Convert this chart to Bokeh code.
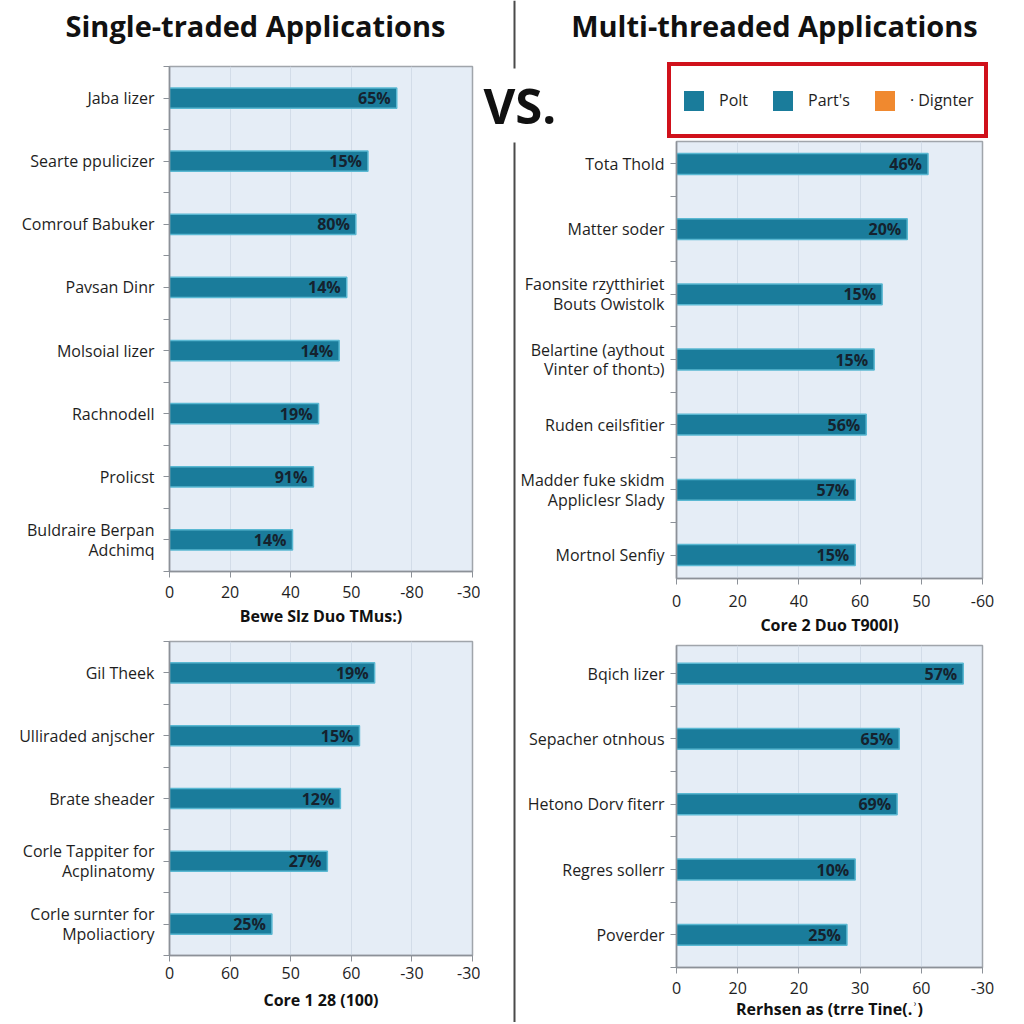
from bokeh.plotting import figure
from bokeh.layouts import column, row
from bokeh.models import ColumnDataSource, Range1d, FixedTicker, Legend, LegendItem
from bokeh.core.properties import value
from bokeh.embed import file_html
from bokeh.resources import INLINE

# ---------------- data ----------------
titles = ["Single-traded Applications", "Multi-threaded Applications"]
vs_text = ["VS."]

tl_labels = ["Jaba lizer", "Searte ppulicizer", "Comrouf Babuker", "Pavsan Dinr",
             "Molsoial lizer", "Rachnodell", "Prolicst", "Buldraire Berpan\nAdchimq"]
tl_values = [75, 65.5, 61.5, 58.5, 56, 49.2, 47.5, 40.6]
tl_pct = ["65%", "15%", "80%", "14%", "14%", "19%", "91%", "14%"]
tl_xticks = ["0", "20", "40", "50", "-80", "-30"]
tl_xtitle = "Bewe Slz Duo TMus:)"

tr_labels = ["Tota Thold", "Matter soder", "Faonsite rzytthiriet\nBouts Owistolk",
             "Belartine (aythout\nVinter of thont\u0254)", "Ruden ceilsfitier",
             "Madder fuke skidm\nApplicIesr Slady", "Mortnol Senfiy"]
tr_values = [82.2, 75.4, 67.2, 64.6, 62, 58.4, 58.4]
tr_pct = ["46%", "20%", "15%", "15%", "56%", "57%", "15%"]
tr_xticks = ["0", "20", "40", "60", "50", "-60"]
tr_xtitle = "Core 2 Duo T900I)"

bl_labels = ["Gil Theek", "Ulliraded anjscher", "Brate sheader",
             "Corle Tappiter for\nAcplinatomy", "Corle surnter for\nMpoliactiory"]
bl_values = [67.7, 62.7, 56.4, 52.1, 33.8]
bl_pct = ["19%", "15%", "12%", "27%", "25%"]
bl_xticks = ["0", "60", "50", "60", "-30", "-30"]
bl_xtitle = "Core 1 28 (100)"

br_labels = ["Bqich lizer", "Sepacher otnhous", "Hetono Dorv fiterr", "Regres sollerr", "Poverder"]
br_values = [93.7, 72.8, 72.1, 58.4, 55.7]
br_pct = ["57%", "65%", "69%", "10%", "25%"]
br_xticks = ["0", "20", "20", "30", "60", "-30"]
br_xtitle = "Rerhsen as (trre Tine(.\u02be)"

legend_labels = ["Polt", "Part's", "\u00b7 Dignter"]
legend_colors = ["#1a7c9b", "#1a7c9b", "#f0892f"]

x_tick_pos = [0, 20, 40, 60, 80, 100]

# ---------------- style ----------------
FONT = "Open Sans"
BAR = "#1a7c9b"
BAR_EDGE = "#5ab8d2"
BG = "#e5edf6"
GRID = "#d2dce8"
AXIS = "#8c9198"
TXT = "#1e1e1e"
DIV = "#4a4a4a"


def blank(width, height):
    p = figure(width=width, height=height, x_range=Range1d(0, width), y_range=Range1d(0, height),
               output_backend="svg", toolbar_location=None, min_border=0,
               x_axis_location=None, y_axis_location=None)
    p.grid.visible = False
    p.outline_line_color = None
    p.background_fill_color = "white"
    p.border_fill_color = "white"
    return p


def panel(labels, values, pct, xticks, xtitle, width, height, mb, y_top, y_bottom,
          lab_standoff, title_standoff, y_standoff):
    n = len(labels)
    p = figure(width=width, height=height, x_range=Range1d(0, 100),
               y_range=Range1d(start=y_bottom, end=y_top),
               output_backend="svg", toolbar_location=None,
               min_border_left=mb[0], min_border_right=mb[1],
               min_border_top=mb[2], min_border_bottom=mb[3])
    p.background_fill_color = BG
    p.border_fill_color = "white"
    p.outline_line_color = "#a0a5ab"
    p.outline_line_width = 1.5

    src = ColumnDataSource(dict(y=list(range(n)), v=values, t=pct))
    p.hbar(y="y", right="v", left=0, height=0.32, source=src,
           fill_color=BAR, line_color=BAR_EDGE, line_width=1.5)
    p.text(x="v", y="y", text="t", source=src, x_offset=-6,
           text_align="right", text_baseline="middle",
           text_font=value(FONT), text_font_style="bold",
           text_font_size="16px", text_color="#15222e")

    xt = FixedTicker(ticks=x_tick_pos)
    p.xaxis.ticker = xt
    p.xaxis.major_label_overrides = {t: s for t, s in zip(x_tick_pos, xticks)}
    p.xgrid.ticker = xt
    p.xgrid.grid_line_color = GRID
    p.ygrid.visible = False

    p.yaxis.ticker = FixedTicker(ticks=list(range(n)),
                                 minor_ticks=[i - 0.5 for i in range(n + 1)])
    p.yaxis.major_label_overrides = {i: lab for i, lab in enumerate(labels)}

    for ax in (p.xaxis[0], p.yaxis[0]):
        ax.axis_line_color = AXIS
        ax.axis_line_width = 1.5
        ax.major_tick_line_color = AXIS
        ax.minor_tick_line_color = AXIS
        ax.major_tick_in = 0
        ax.major_tick_out = 6
        ax.minor_tick_in = 0
        ax.minor_tick_out = 6
        ax.major_label_text_font = FONT
        ax.major_label_text_font_size = "16px"
        ax.major_label_text_color = TXT
    p.yaxis.major_label_text_line_height = 0.9
    p.xaxis.minor_tick_line_color = None
    p.xaxis.major_label_standoff = lab_standoff
    p.yaxis.major_label_standoff = y_standoff
    p.xaxis.axis_label = xtitle
    p.xaxis.axis_label_text_font = FONT
    p.xaxis.axis_label_text_font_style = "bold"
    p.xaxis.axis_label_text_font_size = "16px"
    p.xaxis.axis_label_text_color = "#111111"
    p.xaxis.axis_label_standoff = title_standoff
    return p


# ---------- left column ----------
hdr_l = blank(480, 58)
hdr_l.text(x=[255], y=[33], text=titles[:1], text_align="center",
           text_baseline="alphabetic", text_font=value(FONT), text_font_style="bold",
           text_font_size="29px", text_color="#111111")

tl = panel(tl_labels, tl_values, tl_pct, tl_xticks, tl_xtitle, 480, 572,
           (169, 8, 8, 59), -0.5, 7.5, 8, 4, 9)
bl = panel(bl_labels, bl_values, bl_pct, bl_xticks, bl_xtitle, 480, 392,
           (169, 8, 11, 67), -0.5, 4.5, 5, 7, 9)

# ---------- right column ----------
hdr_r = blank(544, 140)
hdr_r.text(x=[294], y=[115], text=titles[1:], text_align="center",
           text_baseline="alphabetic", text_font=value(FONT), text_font_style="bold",
           text_font_size="29px", text_color="#111111")
hdr_r.text(x=[3], y=[36], text=vs_text, text_align="left",
           text_baseline="alphabetic", text_font=value(FONT), text_font_style="bold",
           text_font_size="49px", text_color="#111111")
hdr_r.segment(x0=[34], y0=[72], x1=[34], y1=[140], line_color=DIV, line_width=2)

# legend (zero-height bars only serve as legend glyph carriers)
items = []
for lab, col in zip(legend_labels, legend_colors):
    r = hdr_r.hbar(y=list(range(len(tr_values))), right=tr_values, left=0, height=0,
                   fill_color=col, line_color=None)
    items.append(LegendItem(label=lab, renderers=[r]))
leg = Legend(items=items, orientation="horizontal", location=(187, 2),
             border_line_color="#d0111b", border_line_width=4, border_line_alpha=1,
             background_fill_color="white", background_fill_alpha=1,
             padding=10, spacing=22, label_standoff=13, glyph_width=25, glyph_height=25,
             label_height=48, margin=0, label_text_font=FONT, label_text_font_size="16px",
             label_text_color=TXT)
hdr_r.add_layout(leg)

div_strip = blank(36, 882)
div_strip.segment(x0=[34], y0=[0], x1=[34], y1=[880], line_color=DIV, line_width=2)

tr = panel(tr_labels, tr_values, tr_pct, tr_xticks, tr_xtitle, 508, 499,
           (160, 42, 1, 61), -0.345, 6.36, 10, 4, 6)
br = panel(br_labels, br_values, br_pct, br_xticks, br_xtitle, 508, 383,
           (160, 42, 6, 54), -0.43, 4.5, 8, 1, 6)

layout = row(column(row(hdr_l), tl, bl),
             column(hdr_r, row(div_strip, column(tr, br))))
open("out.html", "w").write(file_html(layout, INLINE))
